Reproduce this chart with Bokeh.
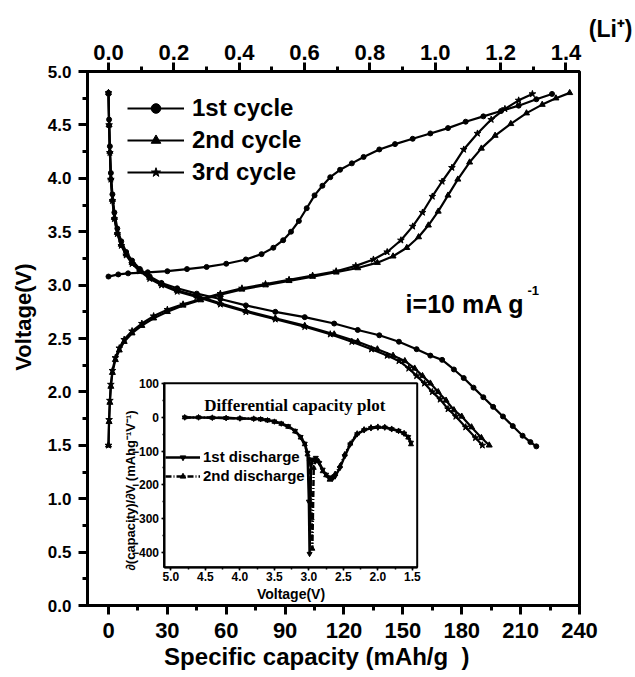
from bokeh.plotting import figure
from bokeh.models import (Range1d, LinearAxis, SingleIntervalTicker, PrintfTickFormatter,
                          Legend, LegendItem, Label)
from bokeh.embed import file_html
from bokeh.resources import INLINE
import math

# ---------------- main data: specific capacity (mAh/g) vs voltage (V) ----------------
c1_charge_cap = [0, 5, 10, 20, 30, 40, 50, 60, 70, 78, 84, 89, 93, 97, 101, 105, 109, 113, 118, 124,
                 130, 138, 146, 155, 164, 173, 182, 191, 200, 209, 218, 226]
c1_charge_v = [3.08, 3.10, 3.11, 3.12, 3.13, 3.15, 3.17, 3.20, 3.24, 3.29, 3.35, 3.42, 3.50, 3.60, 3.72,
               3.84, 3.93, 4.01, 4.08, 4.14, 4.20, 4.27, 4.32, 4.37, 4.42, 4.47, 4.53, 4.58, 4.63, 4.68,
               4.74, 4.79]
c1_dis_cap = [0, 0.3, 0.7, 1.2, 2, 3, 4.5, 6.5, 9, 12, 16, 21, 27, 35, 45, 57, 70, 85, 100, 115, 127,
              138, 148, 157, 164, 170, 176, 181, 186, 191, 196, 201, 206, 211, 215, 218]
c1_dis_v = [4.80, 4.55, 4.30, 4.05, 3.85, 3.68, 3.53, 3.41, 3.31, 3.23, 3.15, 3.08, 3.02, 2.97, 2.92,
            2.87, 2.81, 2.75, 2.70, 2.64, 2.58, 2.53, 2.47, 2.40, 2.34, 2.30, 2.21, 2.13, 2.04, 1.95,
            1.86, 1.77, 1.68, 1.59, 1.53, 1.49]
c2_charge_cap = [0, 0.3, 0.7, 1.2, 2, 3.5, 5.5, 8, 12, 17, 23, 30, 38, 47, 57, 68, 80, 92, 104, 116,
                 127, 137, 145, 152, 158, 163, 168, 173, 178, 184, 190, 197, 205, 213, 221, 228, 235]
c2_charge_v = [1.50, 1.72, 1.90, 2.05, 2.18, 2.30, 2.39, 2.47, 2.55, 2.62, 2.69, 2.75, 2.81, 2.86, 2.91,
               2.96, 3.00, 3.04, 3.08, 3.12, 3.16, 3.21, 3.27, 3.35, 3.45, 3.56, 3.69, 3.84, 3.99, 4.15,
               4.28, 4.40, 4.51, 4.61, 4.69, 4.75, 4.80]
c2_dis_cap = [0, 0.3, 0.7, 1.2, 2, 3, 4.5, 6.5, 9, 12, 16, 21, 27, 35, 45, 57, 70, 85, 100, 115, 127,
              137, 145, 151, 156, 160, 164, 168, 172, 176, 180, 185, 190, 194]
c2_dis_v = [4.80, 4.50, 4.25, 4.00, 3.80, 3.63, 3.49, 3.38, 3.29, 3.21, 3.14, 3.07, 3.01, 2.95, 2.90,
            2.83, 2.76, 2.69, 2.62, 2.54, 2.47, 2.40, 2.34, 2.29, 2.22, 2.15, 2.08, 2.00, 1.92, 1.83,
            1.77, 1.67, 1.57, 1.50]
c3_charge_cap = [0, 0.3, 0.7, 1.2, 2, 3.5, 5.5, 8, 12, 17, 23, 30, 38, 47, 57, 68, 80, 92, 104, 116,
                 126, 135, 142, 149, 155, 160, 165, 170, 175, 181, 188, 195, 202, 209, 216]
c3_charge_v = [1.50, 1.74, 1.92, 2.07, 2.20, 2.32, 2.41, 2.49, 2.57, 2.64, 2.71, 2.77, 2.82, 2.87, 2.92,
               2.97, 3.01, 3.05, 3.09, 3.13, 3.18, 3.24, 3.31, 3.42, 3.55, 3.68, 3.83, 3.97, 4.10, 4.27,
               4.42, 4.55, 4.65, 4.73, 4.79]
c3_dis_cap = [0, 0.3, 0.7, 1.2, 2, 3, 4.5, 6.5, 9, 12, 16, 21, 27, 35, 45, 57, 70, 85, 100, 113, 124,
              134, 142, 148, 153, 157, 161, 165, 169, 173, 177, 182, 187, 190.5]
c3_dis_v = [4.80, 4.50, 4.24, 3.99, 3.79, 3.62, 3.48, 3.37, 3.28, 3.20, 3.13, 3.06, 3.00, 2.94, 2.89,
            2.82, 2.75, 2.68, 2.61, 2.54, 2.47, 2.40, 2.34, 2.29, 2.22, 2.15, 2.08, 2.00, 1.93, 1.84,
            1.77, 1.67, 1.57, 1.50]
cycle_labels = ["1st cycle", "2nd cycle", "3rd cycle"]

# ---------------- inset data: voltage (V) vs dQ/dV ----------------
d1_v = [4.80, 4.60, 4.40, 4.20, 4.00, 3.80, 3.70, 3.60, 3.50, 3.40, 3.30, 3.20, 3.12, 3.06, 3.02, 3.00,
        2.99, 2.97, 2.94, 2.90, 2.85, 2.80, 2.75, 2.70, 2.66, 2.62, 2.55, 2.48, 2.40, 2.30, 2.20, 2.10,
        2.00, 1.90, 1.80, 1.70, 1.62, 1.56, 1.52]
d1_q = [0, 0, -1, -2, -3, -4, -5, -8, -12, -18, -26, -40, -58, -78, -105, -250, -405, -140, -125, -120,
        -135, -155, -170, -178, -182, -175, -150, -115, -80, -50, -38, -32, -30, -30, -35, -40, -48, -58,
        -75]
d2_v = [4.80, 4.60, 4.40, 4.20, 4.00, 3.80, 3.70, 3.60, 3.50, 3.40, 3.30, 3.20, 3.12, 3.06, 3.02, 2.99,
        2.96, 2.95, 2.93, 2.90, 2.86, 2.80, 2.75, 2.70, 2.66, 2.62, 2.55, 2.48, 2.40, 2.30, 2.20, 2.10,
        2.00, 1.90, 1.80, 1.70, 1.62, 1.56, 1.52]
d2_q = [0, 0, -1, -2, -3, -4, -6, -9, -13, -19, -28, -42, -60, -80, -110, -125, -300, -390, -150, -128,
        -130, -160, -172, -185, -178, -168, -145, -110, -78, -48, -36, -30, -28, -29, -34, -40, -47, -60,
        -80]
discharge_labels = ["1st discharge", "2nd discharge"]

# ---------------- ranges / layout ----------------
X_START, X_END = -10.7, 240.0
Y_START, Y_END = 0.0, 5.0
CAP_PER_LI = 166.5
FW, FH = 492, 534

# inset: its own data ranges and the box it occupies in main data units
IX = (5.1, 1.43)
IY = (-445.0, 101.0)
BOX_X = (28.3, 157.3)
BOX_Y = (0.358, 2.08)


def _map(v, a0, a1, b0, b1):
    return b0 + (v - a0) * (b1 - b0) / (a1 - a0)


ix_range = Range1d(_map(X_START, BOX_X[0], BOX_X[1], IX[0], IX[1]),
                   _map(X_END, BOX_X[0], BOX_X[1], IX[0], IX[1]))
iy_range = Range1d(_map(Y_START, BOX_Y[0], BOX_Y[1], IY[0], IY[1]),
                   _map(Y_END, BOX_Y[0], BOX_Y[1], IY[0], IY[1]))

FONT = "Liberation Sans"
NB = "\u00a0"

p = figure(frame_width=FW, frame_height=FH,
           x_range=Range1d(X_START, X_END), y_range=Range1d(Y_START, Y_END),
           output_backend="svg", toolbar_location=None,
           min_border_left=87, min_border_top=71, min_border_right=56, min_border_bottom=72)
p.extra_x_ranges = {"li": Range1d(X_START / CAP_PER_LI, X_END / CAP_PER_LI), "ix": ix_range}
p.extra_y_ranges = {"iy": iy_range}
p.grid.visible = False
p.background_fill_color = "white"
p.border_fill_color = "white"
p.outline_line_color = "black"
p.outline_line_width = 3
p.outline_line_alpha = 1


def style_axis(ax, size):
    ax.axis_line_width = 3
    ax.axis_line_color = "black"
    ax.major_tick_line_width = 3
    ax.minor_tick_line_width = 3
    ax.major_tick_out = 9
    ax.major_tick_in = 0
    ax.minor_tick_out = 5
    ax.minor_tick_in = 0
    ax.major_label_text_font = FONT
    ax.major_label_text_font_style = "bold"
    ax.major_label_text_font_size = size
    ax.major_label_text_color = "black"
    ax.axis_label_text_font = FONT
    ax.axis_label_text_font_style = "bold"
    ax.axis_label_text_color = "black"


xa = p.xaxis[0]
xa.ticker = SingleIntervalTicker(interval=30, num_minor_ticks=2)
style_axis(xa, "22px")
xa.major_label_standoff = 8
xa.axis_label = "Specific capacity (mAh/g" + NB * 2 + ")" + NB * 5
xa.axis_label_text_font_size = "24px"
xa.axis_label_standoff = 2

ya = p.yaxis[0]
ya.ticker = SingleIntervalTicker(interval=0.5, num_minor_ticks=2)
ya.formatter = PrintfTickFormatter(format="%.1f")
style_axis(ya, "17px")
ya.major_label_standoff = 7
ya.axis_label = NB * 7 + "Voltage(V)"
ya.axis_label_text_font_size = "22px"
ya.axis_label_standoff = 9

top = LinearAxis(x_range_name="li", ticker=SingleIntervalTicker(interval=0.2, num_minor_ticks=2),
                 formatter=PrintfTickFormatter(format="%.1f"))
style_axis(top, "22px")
top.major_label_standoff = 3
p.add_layout(top, "above")

# (Li+) unit of the top axis, at its right end
p.title.text = "(Li\u207a)"
p.title.align = "right"
p.title.offset = -53
p.title.standoff = 0
p.title.vertical_align = "bottom"
p.title.text_font = FONT
p.title.text_font_style = "bold"
p.title.text_font_size = "23px"
p.title.text_color = "black"

# ---------------- main curves ----------------
curves = [
    (c1_charge_cap, c1_charge_v, c1_dis_cap, c1_dis_v, "circle", 5),
    (c2_charge_cap, c2_charge_v, c2_dis_cap, c2_dis_v, "triangle", 6),
    (c3_charge_cap, c3_charge_v, c3_dis_cap, c3_dis_v, "star", 7),
]
legend_items = []
for (cx, cy, dx, dy, mk, sz), lab in zip(curves, cycle_labels):
    r_l1 = p.line(cx, cy, line_color="black", line_width=2.2)
    r_m1 = p.scatter(cx, cy, marker=mk, size=sz, fill_color="black", line_color="black")
    p.line(dx, dy, line_color="black", line_width=2.2)
    p.scatter(dx, dy, marker=mk, size=sz, fill_color="black", line_color="black")
    legend_items.append(LegendItem(label=lab, renderers=[r_l1, r_m1]))

leg = Legend(items=legend_items, location=(40, 419), padding=0, margin=0, spacing=4,
             glyph_width=57, glyph_height=24, label_height=24, label_standoff=8,
             background_fill_alpha=0, border_line_alpha=0, label_text_color="black",
             label_text_font=FONT, label_text_font_style="bold", label_text_font_size="24px")
p.add_layout(leg)

# ---------------- current label ----------------
p.add_layout(Label(x=151.4, y=2.822, text="i=10 mA g", text_font=FONT, text_font_style="bold",
                   text_font_size="25px", text_baseline="alphabetic", text_color="black"))
p.add_layout(Label(x=213.5, y=2.947, text="-1", text_font=FONT, text_font_style="bold",
                   text_font_size="13px", text_baseline="alphabetic", text_color="black"))

# ---------------- inset ----------------
p.quad(left=IX[0], right=IX[1], bottom=IY[0], top=IY[1], x_range_name="ix", y_range_name="iy",
       fill_color="white", line_color="black", line_width=2)

r_d1l = p.line(d1_v, d1_q, x_range_name="ix", y_range_name="iy", line_color="black", line_width=2.5)
r_d1m = p.scatter(d1_v, d1_q, x_range_name="ix", y_range_name="iy", marker="inverted_triangle", size=5,
                  fill_color="black", line_color="black")
r_d2l = p.line(d2_v, d2_q, x_range_name="ix", y_range_name="iy", line_color="black", line_width=2.5,
               line_dash="6 2 1 2")
r_d2m = p.scatter(d2_v, d2_q, x_range_name="ix", y_range_name="iy", marker="triangle", size=5,
                  fill_color="black", line_color="black")

ixa = LinearAxis(x_range_name="ix", y_range_name="iy", fixed_location=IY[0], bounds=(IX[1], IX[0]),
                 ticker=SingleIntervalTicker(interval=0.5, num_minor_ticks=2),
                 formatter=PrintfTickFormatter(format="%.1f"))
iya = LinearAxis(x_range_name="ix", y_range_name="iy", fixed_location=IX[0], bounds=IY,
                 ticker=SingleIntervalTicker(interval=100, num_minor_ticks=2))
for ax in (ixa, iya):
    ax.axis_line_width = 2
    ax.major_tick_line_width = 1.5
    ax.minor_tick_line_width = 1.5
    ax.major_tick_out = 3
    ax.major_tick_in = 0
    ax.minor_tick_out = 2
    ax.minor_tick_in = 0
    ax.major_label_text_font = FONT
    ax.major_label_text_font_style = "bold"
    ax.major_label_text_font_size = "12px"
    ax.major_label_text_color = "black"
    ax.major_label_standoff = 2
    ax.axis_label_text_font = FONT
    ax.axis_label_text_font_style = "bold"
    ax.axis_label_text_font_size = "14px"
    ax.axis_label_text_color = "black"
    ax.axis_label_standoff = 1
ixa.axis_label = "Voltage(V)"
p.add_layout(ixa, "below")
p.add_layout(iya, "left")
p.add_layout(Label(x=5.58, y=-217, x_range_name="ix", y_range_name="iy",
                   text="∂(capacity)/∂V (mAhg⁻¹V⁻¹)", text_font=FONT, text_font_style="bold",
                   text_font_size="13px", text_align="center", text_baseline="middle",
                   angle=math.pi / 2, text_color="black"))

p.add_layout(Label(x=3.204, y=34.7, x_range_name="ix", y_range_name="iy", text="Differential capacity plot",
                   text_font="Liberation Serif", text_font_style="bold", text_font_size="17px",
                   text_align="center", text_baseline="alphabetic", text_color="black"))

leg2 = Legend(items=[LegendItem(label=discharge_labels[0], renderers=[r_d1l, r_d1m]),
                     LegendItem(label=discharge_labels[1], renderers=[r_d2l, r_d2m])],
              location=(78, 121), padding=0, margin=0, spacing=2,
              glyph_width=35, glyph_height=14, label_height=14, label_standoff=3,
              background_fill_alpha=0, border_line_alpha=0, label_text_color="black",
              label_text_font=FONT, label_text_font_style="bold", label_text_font_size="15px")
p.add_layout(leg2)

open("out.html", "w").write(file_html(p, INLINE))
